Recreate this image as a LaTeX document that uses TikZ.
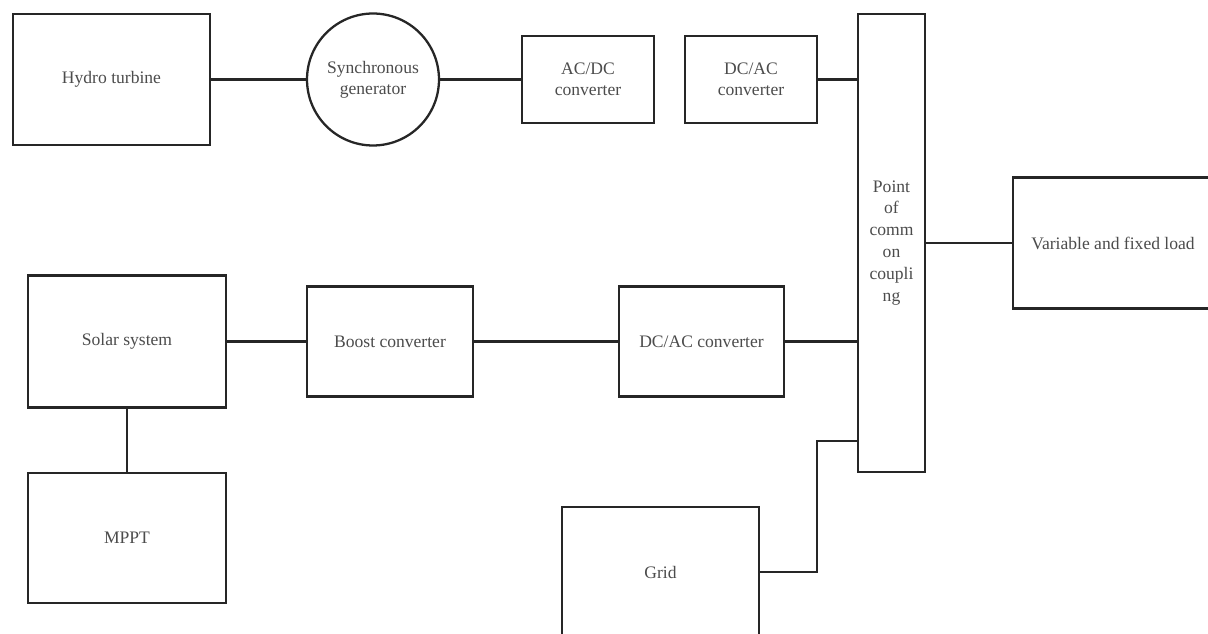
\documentclass[tikz,border=0pt]{standalone}
\usepackage{fontspec}
\setmainfont{Liberation Serif}
\usetikzlibrary{calc}
\begin{document}
\begin{tikzpicture}[x=0.02cm,y=-0.02cm,
  blk/.style={draw=black!85,line width=1.3pt,fill=white,text=black!70,font=\fontsize{10}{12}\selectfont,align=center,inner sep=0pt},
  wire/.style={draw=black!85,line width=1.2pt}]
\useasboundingbox (0,0) rectangle (1208,634);
\clip (0,0) rectangle (1208,634);
% upper row: hydro branch
\node[blk,minimum width=3.94cm,minimum height=2.62cm] (hydro) at (111.5,79.5) {Hydro turbine};
\node[blk,circle,minimum size=2.64cm] (gen) at (373,79.5) {Synchronous\\generator};
\node[blk,minimum width=2.64cm,minimum height=1.74cm] (acdc) at (588,79.5) {AC/DC\\converter};
\node[blk,minimum width=2.64cm,minimum height=1.74cm] (dcac) at (751,79.5) {DC/AC\\converter};
% common coupling and load
\node[blk,minimum width=1.34cm,minimum height=9.16cm,font=\fontsize{10}{12.5}\selectfont] (pcc) at (891.5,243) {Point\\of\\comm\\on\\coupli\\ng};
\node[blk,minimum width=4cm,minimum height=2.62cm] (load) at (1113,243) {Variable and fixed load};
% lower row: solar branch
\node[blk,minimum width=3.96cm,minimum height=2.64cm] (solar) at (127,341.5) {Solar system};
\node[blk,minimum width=3.32cm,minimum height=2.2cm] (boost) at (390,341.5) {Boost converter};
\node[blk,minimum width=3.3cm,minimum height=2.2cm] (dcacb) at (701.5,341.5) {DC/AC converter};
\node[blk,minimum width=3.96cm,minimum height=2.6cm] (mppt) at (127,538) {MPPT};
\node[blk,minimum width=3.94cm,minimum height=2.6cm] (grid) at (660.5,572) {Grid};
\coordinate (tap) at ($(pcc.south west)+(0,-32)$);
% connectors
\draw[wire] (hydro.east) -- (gen.west);
\draw[wire] (gen.east) -- (acdc.west);
\draw[wire] (dcac.east) -- (dcac.east -| pcc.west);
\draw[wire] (pcc.east) -- (load.west);
\draw[wire] (solar.east) -- (boost.west);
\draw[wire] (boost.east) -- (dcacb.west);
\draw[wire] (dcacb.east) -- (dcacb.east -| pcc.west);
\draw[wire] (solar.south) -- (mppt.north);
\draw[wire] (grid.east) -- ++(57,0) |- (tap);
\end{tikzpicture}
\end{document}
